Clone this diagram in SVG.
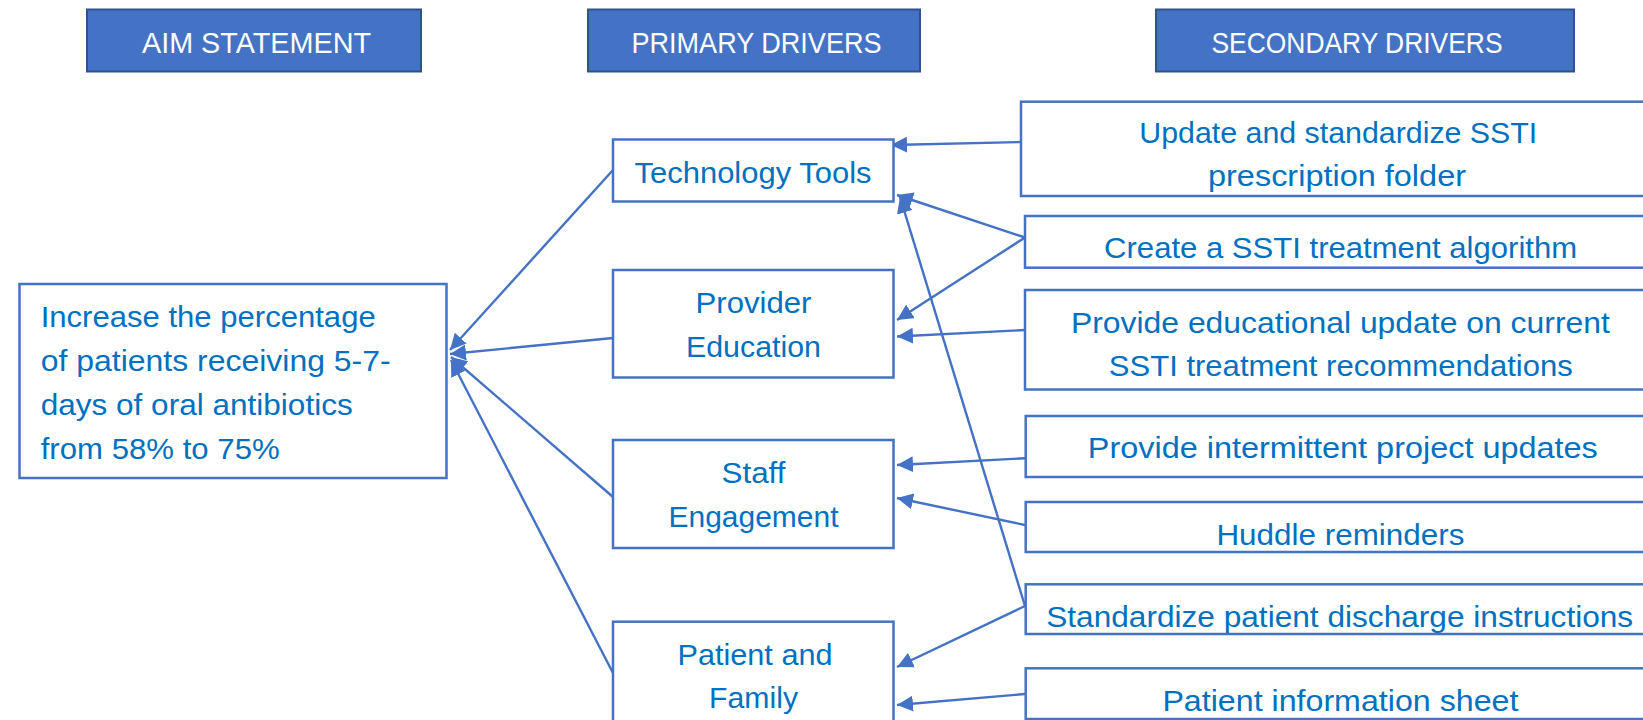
<svg xmlns="http://www.w3.org/2000/svg" width="1643" height="720" viewBox="0 0 1643 720">
  <style>
    .hdr rect { fill: #4472C4; stroke: #2F528F; stroke-width: 2; }
    .hdr text { fill: #FFFFFF; font-family: "Liberation Sans", Arial, sans-serif; font-size: 30px; text-anchor: middle; }
    .node rect { fill: #FFFFFF; stroke: #4472C4; stroke-width: 2.5; }
    .node text { fill: #0070C0; font-family: "Liberation Sans", Arial, sans-serif; font-size: 29px; }
    .c text { text-anchor: middle; }
    #connectors line { stroke: #4472C4; stroke-width: 2.4; marker-end: url(#arrow); }
  </style>
  <defs>
    <marker id="arrow" markerUnits="userSpaceOnUse" markerWidth="18" markerHeight="16" refX="16" refY="8" orient="auto">
      <path d="M0,0 L16,8 L0,16 Z" fill="#4472C4"/>
    </marker>
  </defs>

  <rect width="1643" height="720" fill="#FFFFFF"/>

  <!-- Column headers -->
  <g id="hdr-aim" class="hdr">
    <rect x="87" y="9.5" width="334" height="62"/>
    <text x="256.5" y="53" textLength="229" lengthAdjust="spacingAndGlyphs">AIM STATEMENT</text>
  </g>
  <g id="hdr-primary" class="hdr">
    <rect x="588" y="9.5" width="332" height="62"/>
    <text x="756.5" y="53" textLength="250" lengthAdjust="spacingAndGlyphs">PRIMARY DRIVERS</text>
  </g>
  <g id="hdr-secondary" class="hdr">
    <rect x="1156" y="9.5" width="418" height="62"/>
    <text x="1357" y="53" textLength="291" lengthAdjust="spacingAndGlyphs">SECONDARY DRIVERS</text>
  </g>

  <!-- Connectors: secondary -> primary -> aim -->
  <g id="connectors">
    <line x1="613" y1="170" x2="450" y2="350"/>
    <line x1="613" y1="338" x2="450" y2="354"/>
    <line x1="613" y1="497" x2="451" y2="357"/>
    <line x1="613" y1="673" x2="451" y2="360"/>

    <line x1="1022" y1="142" x2="891" y2="145"/>
    <line x1="1025" y1="237.5" x2="897" y2="195"/>
    <line x1="1025" y1="237.5" x2="897" y2="320"/>
    <line x1="1025" y1="330" x2="897" y2="336.5"/>
    <line x1="1025" y1="606" x2="900" y2="197"/>
    <line x1="1029" y1="458" x2="897" y2="465"/>
    <line x1="1025" y1="525" x2="897" y2="498"/>
    <line x1="1025" y1="606" x2="897" y2="667"/>
    <line x1="1025" y1="694" x2="897" y2="705"/>
  </g>

  <!-- Aim statement -->
  <g id="aim" class="node">
    <rect x="19.5" y="284" width="427" height="194"/>
    <text x="40.7" y="326.5" textLength="335" lengthAdjust="spacingAndGlyphs">Increase the percentage</text>
    <text x="40.7" y="370.5" textLength="350" lengthAdjust="spacingAndGlyphs">of patients receiving 5-7-</text>
    <text x="40.7" y="414.5" textLength="312" lengthAdjust="spacingAndGlyphs">days of oral antibiotics</text>
    <text x="40.7" y="458.5" textLength="239" lengthAdjust="spacingAndGlyphs">from 58% to 75%</text>
  </g>

  <!-- Primary drivers -->
  <g id="p-technology" class="node c">
    <rect x="613" y="139.5" width="280.5" height="62"/>
    <text x="753" y="182.7" textLength="237" lengthAdjust="spacingAndGlyphs">Technology Tools</text>
  </g>
  <g id="p-provider" class="node c">
    <rect x="613" y="270" width="280.5" height="107.5"/>
    <text x="753.5" y="313.3" textLength="116" lengthAdjust="spacingAndGlyphs">Provider</text>
    <text x="753.5" y="356.5" textLength="135" lengthAdjust="spacingAndGlyphs">Education</text>
  </g>
  <g id="p-staff" class="node c">
    <rect x="613" y="440" width="280.5" height="108"/>
    <text x="753.5" y="483.3" textLength="64" lengthAdjust="spacingAndGlyphs">Staff</text>
    <text x="753.5" y="526.7" textLength="170" lengthAdjust="spacingAndGlyphs">Engagement</text>
  </g>
  <g id="p-patient" class="node c">
    <rect x="613" y="621.7" width="280.5" height="110"/>
    <text x="755" y="665" textLength="155" lengthAdjust="spacingAndGlyphs">Patient and</text>
    <text x="753.5" y="708.3" textLength="89" lengthAdjust="spacingAndGlyphs">Family</text>
  </g>

  <!-- Secondary drivers -->
  <g id="s-folder" class="node c">
    <rect x="1021" y="101.7" width="650" height="94.3"/>
    <text x="1338.3" y="143.3" textLength="398" lengthAdjust="spacingAndGlyphs">Update and standardize SSTI</text>
    <text x="1337" y="185.5" textLength="258" lengthAdjust="spacingAndGlyphs">prescription folder</text>
  </g>
  <g id="s-algorithm" class="node c">
    <rect x="1025" y="216" width="650" height="51.7"/>
    <text x="1340.6" y="258.3" textLength="473" lengthAdjust="spacingAndGlyphs">Create a SSTI treatment algorithm</text>
  </g>
  <g id="s-education" class="node c">
    <rect x="1025" y="290" width="650" height="99.5"/>
    <text x="1340.4" y="333.3" textLength="539" lengthAdjust="spacingAndGlyphs">Provide educational update on current</text>
    <text x="1340.8" y="376" textLength="464" lengthAdjust="spacingAndGlyphs">SSTI treatment recommendations</text>
  </g>
  <g id="s-updates" class="node c">
    <rect x="1025.7" y="416" width="650" height="61"/>
    <text x="1342.8" y="458.3" textLength="510" lengthAdjust="spacingAndGlyphs">Provide intermittent project updates</text>
  </g>
  <g id="s-huddle" class="node c">
    <rect x="1025.7" y="502" width="650" height="50"/>
    <text x="1340.4" y="545" textLength="248" lengthAdjust="spacingAndGlyphs">Huddle reminders</text>
  </g>
  <g id="s-discharge" class="node c">
    <rect x="1025.7" y="584.3" width="650" height="49.7"/>
    <text x="1339.7" y="626.7" textLength="587" lengthAdjust="spacingAndGlyphs">Standardize patient discharge instructions</text>
  </g>
  <g id="s-infosheet" class="node c">
    <rect x="1025.7" y="668.3" width="650" height="50.7"/>
    <text x="1340.4" y="711" textLength="356" lengthAdjust="spacingAndGlyphs">Patient information sheet</text>
  </g>
</svg>
